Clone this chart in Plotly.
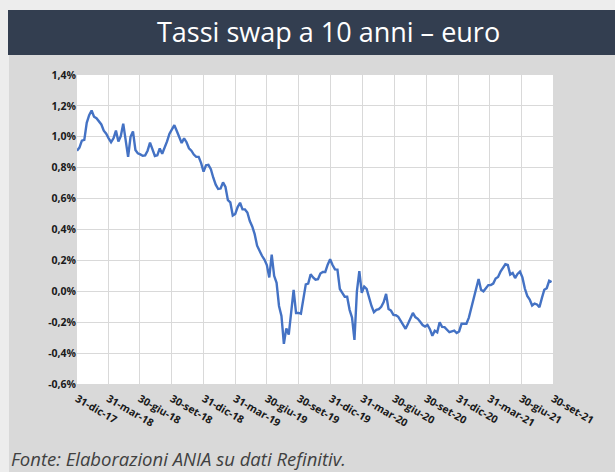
import pandas as pd
import plotly.graph_objects as go

# ---------------- data (% ) ----------------
start_date = "2017-12-31"
swap10y = [
    0.91, 0.93, 0.975, 0.98, 1.09, 1.14, 1.17, 1.13, 1.12, 1.10,
    1.08, 1.04, 1.02, 0.99, 0.965, 0.99, 1.04, 0.97, 1.005, 1.085,
    0.99, 0.87, 1.00, 1.035, 0.915, 0.893, 0.886, 0.877, 0.88, 0.91,
    0.962, 0.915, 0.876, 0.88, 0.925, 0.89, 0.925, 0.97, 1.02, 1.053,
    1.075, 1.037, 0.995, 0.96, 0.99, 0.965, 0.926, 0.91, 0.885, 0.87,
    0.87, 0.83, 0.775, 0.815, 0.818, 0.79, 0.735, 0.69, 0.662, 0.665,
    0.705, 0.675, 0.59, 0.575, 0.49, 0.50, 0.545, 0.573, 0.53, 0.53,
    0.51, 0.455, 0.42, 0.37, 0.295, 0.26, 0.23, 0.205, 0.17, 0.09,
    0.237, 0.10, 0.055, -0.095, -0.16, -0.34, -0.24, -0.28, -0.15, 0.01,
    -0.14, -0.14, -0.145, -0.034, 0.045, 0.05, 0.11, 0.09, 0.075, 0.078,
    0.115, 0.125, 0.125, 0.172, 0.207, 0.17, 0.142, 0.14, 0.015, -0.01,
    -0.035, -0.035, -0.12, -0.17, -0.315, 0.0, 0.13, -0.01, 0.03, 0.015,
    -0.045, -0.095, -0.135, -0.12, -0.115, -0.10, -0.07, -0.017, -0.115, -0.125,
    -0.153, -0.155, -0.165, -0.19, -0.222, -0.243, -0.21, -0.18, -0.14, -0.167,
    -0.178, -0.197, -0.218, -0.228, -0.218, -0.245, -0.288, -0.255, -0.265, -0.20,
    -0.23, -0.232, -0.249, -0.265, -0.26, -0.255, -0.27, -0.26, -0.21, -0.21,
    -0.21, -0.17, -0.112, -0.045, 0.005, 0.08, 0.01, 0.0, 0.02, 0.04,
    0.04, 0.05, 0.083, 0.093, 0.127, 0.15, 0.175, 0.17, 0.108, 0.118,
    0.086, 0.112, 0.127, 0.09, 0.018, -0.03, -0.053, -0.092, -0.08, -0.085,
    -0.103, -0.044, 0.01, 0.02, 0.068, 0.06,
]
dates = pd.date_range(start_date, periods=len(swap10y), freq="7D")

x_tickvals = ["2017-12-31", "2018-03-31", "2018-06-30", "2018-09-30",
              "2018-12-31", "2019-03-31", "2019-06-30", "2019-09-30",
              "2019-12-31", "2020-03-31", "2020-06-30", "2020-09-30",
              "2020-12-31", "2021-03-31", "2021-06-30", "2021-09-30"]
x_ticktext = ["31-dic-17", "31-mar-18", "30-giu-18", "30-set-18",
              "31-dic-18", "31-mar-19", "30-giu-19", "30-set-19",
              "31-dic-19", "31-mar-20", "30-giu-20", "30-set-20",
              "31-dic-20", "31-mar-21", "30-giu-21", "30-set-21"]
y_tickvals = [-0.6, -0.4, -0.2, 0.0, 0.2, 0.4, 0.6, 0.8, 1.0, 1.2, 1.4]
y_ticktext = ["-0,6%", "-0,4%", "-0,2%", "0,0%", "0,2%", "0,4%",
              "0,6%", "0,8%", "1,0%", "1,2%", "1,4%"]

title_text = "Tassi swap a 10 anni – euro"
source_text = "Fonte: Elaborazioni ANIA su dati Refinitiv."

# ---------------- layout geometry ----------------
W, H = 615, 472
L, R, T, B = 77, 62, 75, 88
pw, ph = W - L - R, H - T - B


def px2x(px):
    return (px - L) / pw


def py2y(py):
    return (H - B - py) / ph


fig = go.Figure()
fig.add_trace(go.Scatter(
    x=dates, y=swap10y, mode="lines",
    line=dict(color="#4472c4", width=2.4),
    hoverinfo="skip", showlegend=False,
))

tick_font = dict(family="Open Sans", size=10.5, color="#1a1a1a", weight="bold")

fig.update_xaxes(
    type="date", range=["2017-12-31", "2021-09-30"],
    tickmode="array", tickvals=x_tickvals, ticktext=x_ticktext,
    tickangle=30, tickfont=tick_font, ticklabelstandoff=6,
    showgrid=True, gridcolor="#d9d9d9", gridwidth=1,
    zeroline=False, showline=False, ticks="",
)
fig.update_yaxes(
    range=[-0.6, 1.4], tickmode="array",
    tickvals=y_tickvals, ticktext=y_ticktext, tickfont=tick_font,
    showgrid=True, gridcolor="#d9d9d9", gridwidth=1,
    zeroline=False, showline=False, ticks="",
)

shapes = [
    # light outer strips
    dict(type="rect", xref="paper", yref="paper",
         x0=px2x(0), x1=px2x(W), y0=py2y(0), y1=py2y(10),
         fillcolor="#ededed", line_width=0, layer="below"),
    dict(type="rect", xref="paper", yref="paper",
         x0=px2x(0), x1=px2x(9), y0=py2y(0), y1=py2y(H),
         fillcolor="#ededed", line_width=0, layer="below"),
    # title bar
    dict(type="rect", xref="paper", yref="paper",
         x0=px2x(8), x1=px2x(W), y0=py2y(10), y1=py2y(55),
         fillcolor="#333e50", line_width=0, layer="below"),
]

annotations = [
    dict(text=title_text, xref="paper", yref="paper",
         x=px2x(328), y=py2y(32), xanchor="center", yanchor="middle",
         showarrow=False,
         font=dict(family="Open Sans", size=27, color="white")),
    dict(text="<i>" + source_text + "</i>", xref="paper", yref="paper",
         x=px2x(9), y=py2y(459), xanchor="left", yanchor="middle",
         showarrow=False,
         font=dict(family="Open Sans", size=18.5, color="#404040")),
]

fig.update_layout(
    width=W, height=H, autosize=False,
    margin=dict(l=L, r=R, t=T, b=B, pad=0),
    paper_bgcolor="#d9d9d9", plot_bgcolor="white",
    shapes=shapes, annotations=annotations,
    showlegend=False,
)

fig.write_html(
    "out.html",
    config={"displayModeBar": False, "staticPlot": True},
    post_script=("document.body.style.margin='0';"
                 "document.body.style.overflow='hidden';"
                 "document.body.style.background='#ededed';"),
)
